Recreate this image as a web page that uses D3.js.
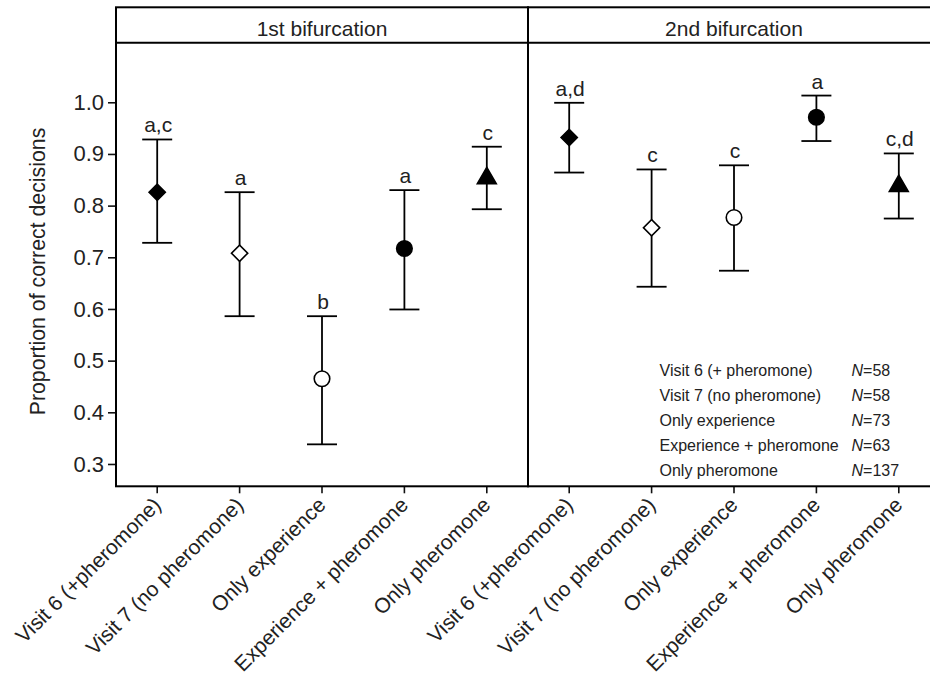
<!DOCTYPE html>
<html>
<head>
<meta charset="utf-8">
<script src="https://cdn.jsdelivr.net/npm/d3@7"></script>
<style>
  body { margin: 0; background: #fff; }
  text { font-family: "Liberation Sans", Arial, sans-serif; fill: #222; }
</style>
</head>
<body>
<div id="plt"></div>
<script>
// data
var panels = ["1st bifurcation", "2nd bifurcation"];
var categories = ["Visit 6 (+pheromone)", "Visit 7 (no pheromone)", "Only experience", "Experience + pheromone", "Only pheromone"];
var markers = ["diamondFilled", "diamondOpen", "circleOpen", "circleFilled", "triangleFilled"];

var means1 = [0.826, 0.708, 0.465, 0.717, 0.853];
var upper1 = [0.928, 0.826, 0.586, 0.830, 0.914];
var lower1 = [0.728, 0.586, 0.338, 0.599, 0.793];
var letters1 = ["a,c", "a", "b", "a", "c"];

var means2 = [0.932, 0.757, 0.777, 0.971, 0.838];
var upper2 = [0.999, 0.870, 0.878, 1.013, 0.901];
var lower2 = [0.864, 0.643, 0.674, 0.925, 0.775];
var letters2 = ["a,d", "c", "c", "a", "c,d"];

var legendLabels = ["Visit 6 (+ pheromone)", "Visit 7 (no pheromone)", "Only experience", "Experience + pheromone", "Only pheromone"];
var sampleSizes = [58, 58, 73, 63, 137];

var yTicks = [0.3, 0.4, 0.5, 0.6, 0.7, 0.8, 0.9, 1.0];

// set the dimensions and margins of the plot
var margin = {top: 42.7, left: 116, bottom: 189.7};
var stripTop = 7.3;
var panelWidth = 412;
var height = 676 - margin.top - margin.bottom;

var svg = d3.select("#plt")
            .append("svg")
            .attr("width", 930)
            .attr("height", 676);

var y = d3.scaleLinear()
          .domain([0.2568, 1.1153])
          .range([height, 0]);

var x = d3.scaleBand()
          .domain(categories)
          .range([0, panelWidth])
          .padding(0);

var panelData = [
  {name: panels[0], means: means1, upper: upper1, lower: lower1, letters: letters1},
  {name: panels[1], means: means2, upper: upper2, lower: lower2, letters: letters2}
];

var plot = svg.append("g")
              .attr("transform", "translate(" + margin.left + "," + margin.top + ")");

// y axis
var yAxis = plot.append("g")
    .call(d3.axisLeft(y).tickValues(yTicks).tickFormat(d3.format(".1f")).tickSize(8).tickPadding(4));
yAxis.select(".domain").remove();
yAxis.selectAll("line").attr("stroke", "#111").attr("stroke-width", 1.6);
yAxis.selectAll("text")
     .style("font-size", "22px")
     .style("font-family", "Liberation Sans, Arial, sans-serif")
     .attr("fill", "#222");

plot.append("text")
    .attr("transform", "translate(" + (45 - margin.left) + "," + (height / 2 + 7) + ")rotate(-90)")
    .attr("text-anchor", "middle")
    .style("font-size", "21.3px")
    .text("Proportion of correct decisions");

function drawMarker(g, type, cx, cy) {
  var sym, fill, rot = 0;
  if (type.indexOf("diamond") === 0) { sym = d3.symbol(d3.symbolSquare, 132); rot = 45; }
  else if (type.indexOf("circle") === 0) { sym = d3.symbol(d3.symbolCircle, 190); }
  else { sym = d3.symbol(d3.symbolTriangle, 155); }
  fill = type.indexOf("Open") > 0 ? "#fff" : "#000";
  g.append("path")
   .attr("d", sym())
   .attr("transform", "translate(" + cx + "," + cy + ")rotate(" + rot + ")")
   .attr("fill", fill)
   .attr("stroke", "#000")
   .attr("stroke-width", 1.6);
}

panelData.forEach(function(p, k) {
  var g = plot.append("g")
              .attr("transform", "translate(" + (k * panelWidth) + ",0)");

  // x axis
  var xAxis = g.append("g")
     .attr("transform", "translate(0," + height + ")")
     .call(d3.axisBottom(x).tickSize(7));
  xAxis.select(".domain").remove();
  xAxis.selectAll("line").attr("stroke", "#111").attr("stroke-width", 1.6);
  xAxis.selectAll("text")
       .attr("y", 0)
       .attr("dy", 0)
       .attr("transform", "translate(5,20)rotate(-45)")
       .style("text-anchor", "end")
       .style("font-size", "21px")
       .style("font-family", "Liberation Sans, Arial, sans-serif")
       .attr("fill", "#222");

  // strip label
  g.append("text")
   .attr("x", panelWidth / 2)
   .attr("y", 36 - margin.top)
   .attr("text-anchor", "middle")
   .style("font-size", "21px")
   .text(p.name);

  // error bars
  var cap = 15;
  categories.forEach(function(c, i) {
    var cx = x(c) + x.bandwidth() / 2;
    g.append("line")
     .attr("x1", cx).attr("x2", cx)
     .attr("y1", y(p.lower[i])).attr("y2", y(p.upper[i]))
     .attr("stroke", "#000").attr("stroke-width", 1.8);
    [p.lower[i], p.upper[i]].forEach(function(v) {
      g.append("line")
       .attr("x1", cx - cap).attr("x2", cx + cap)
       .attr("y1", y(v)).attr("y2", y(v))
       .attr("stroke", "#000").attr("stroke-width", 1.8);
    });
    drawMarker(g, markers[i], cx, y(p.means[i]));
    g.append("text")
     .attr("x", cx + 1)
     .attr("y", y(p.upper[i]) - 7)
     .attr("text-anchor", "middle")
     .style("font-size", "21px")
     .text(p.letters[i]);
  });

  // frame
  g.append("rect")
   .attr("x", 0)
   .attr("y", stripTop - margin.top)
   .attr("width", panelWidth)
   .attr("height", height + margin.top - stripTop)
   .attr("fill", "none")
   .attr("stroke", "#000")
   .attr("stroke-width", 2);
  g.append("line")
   .attr("x1", 0).attr("x2", panelWidth)
   .attr("y1", 0).attr("y2", 0)
   .attr("stroke", "#000").attr("stroke-width", 2);
});

// sample size table in the second panel
var legend = svg.append("g")
                .attr("transform", "translate(659.5,376)");
legendLabels.forEach(function(l, i) {
  legend.append("text")
        .attr("x", 0)
        .attr("y", i * 25)
        .style("font-size", "16px")
        .text(l);
  var t = legend.append("text")
        .attr("x", 192)
        .attr("y", i * 25)
        .style("font-size", "16px");
  t.append("tspan").style("font-style", "italic").text("N");
  t.append("tspan").text("=" + sampleSizes[i]);
});
</script>
</body>
</html>
